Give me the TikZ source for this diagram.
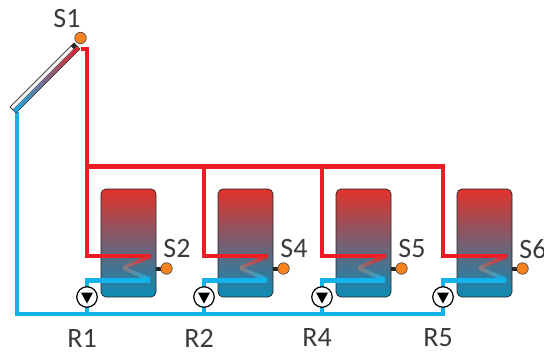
\documentclass[tikz,border=0pt]{standalone}
\usepackage{fontspec}
\setmainfont{Carlito}
\usetikzlibrary{calc}

\definecolor{hotred}{HTML}{ED1C24}
\definecolor{coldblue}{HTML}{12B2EA}
\definecolor{tanktop}{HTML}{E2322C}
\definecolor{tankmid}{HTML}{727474}
\definecolor{tankbot}{HTML}{0A8CB6}
\definecolor{coilgray}{HTML}{867A7C}
\definecolor{sensorfill}{HTML}{F5821F}
\definecolor{labelgray}{HTML}{3A3A3A}

\tikzset{
  hot/.style={draw=hotred, line width=4.5pt},
  cold/.style={draw=coldblue, line width=4.5pt},
  tankbox/.style={draw=black!85, line width=0.7pt, rounded corners=5pt,
    top color=tanktop, middle color=tankmid, bottom color=tankbot,
    minimum width=55pt, minimum height=108pt, inner sep=0pt},
  pumpnode/.style={circle, draw=black, fill=white, line width=1.2pt,
    minimum size=20.5pt, inner sep=0pt},
  sensornode/.style={circle, draw=black!75, fill=sensorfill, line width=0.6pt,
    minimum size=11.5pt, inner sep=0pt},
  stub/.style={draw=black!85, line width=4pt},
  tag/.style={text=labelgray, inner sep=0pt, font=\fontsize{28}{32}\selectfont},
}

\begin{document}
\begin{tikzpicture}[x=1pt, y=-1pt]
\useasboundingbox (0,0) rectangle (544,353);

% tanks and the points the pipes run through
\foreach \x/\s [count=\i] in {87/2, 204/4, 322/5, 443/6} {
  \node[tankbox] (tank\i) at (\x+41.5,243) {};
  \coordinate (drop\i) at (\x,166.5);
  \coordinate (coilin\i) at (\x+63,256);
  \coordinate (coilmid\i) at (\x+36,268);
  \coordinate (coilout\i) at (\x+63,280.5);
  \coordinate (pumpat\i) at (\x,297);
  \coordinate (ret\i) at (\x,314);
  \coordinate (sensat\i) at (\x+79.5,268.5);
}
\coordinate (colhot) at (81,49);
\coordinate (colcold) at (17,112);

% hot side
\draw[hot] (colhot) -| (coilin1 -| drop1) -- (coilin1);
\draw[hot] (drop1) -- (drop4) -- (coilin4 -| drop4) -- (coilin4);
\foreach \i in {2,3}
  \draw[hot] (drop\i) -- (coilin\i -| drop\i) -- (coilin\i);

% coils
\foreach \i in {1,...,4} {
  \shade[left color=coilgray, right color=hotred]
    ($(coilin\i)+(1,-1.9)$) -- ($(coilmid\i)+(0,-1.9)$) --
    ($(coilmid\i)+(0,1.9)$) -- ($(coilin\i)+(1,1.9)$) -- cycle;
  \shade[left color=coilgray, right color=coldblue]
    ($(coilmid\i)+(0,-1.9)$) -- ($(coilout\i)+(0,-3)$) --
    ($(coilout\i)+(0,1.5)$) -- ($(coilmid\i)+(0,1.9)$) -- cycle;
}

% cold side
\draw[cold] (colcold) |- (ret4) -- (pumpat4);
\foreach \i in {1,...,3}
  \draw[cold] (pumpat\i) -- (ret\i);
\foreach \i in {1,...,4}
  \draw[cold] (coilout\i) -| (pumpat\i);

% collector
\begin{scope}[shift={(16,113)}, rotate=45]
  \shade[left color=coldblue, middle color=gray, right color=hotred]
    (0,0) rectangle (90.5,-4.5);
  \draw[black!80, fill=white, line width=0.5pt] (0,-4.5) rectangle (90.5,-8.5);
  \draw[black!80, line width=0.5pt] (0,0) rectangle (90.5,-8.5);
  \fill[black!85] (86,-4.5) rectangle (90.5,-8.5);
\end{scope}
\node[sensornode] (sens0) at (80.5,38) {};
\node[tag] (slab0) at (67,19) {S1};

% pumps, sensors, labels
\foreach \x/\s/\r [count=\i] in {87/2/1, 204/4/2, 322/5/4, 443/6/5} {
  \node[pumpnode] (pump\i) at (pumpat\i) {};
  \fill ($(pump\i)+(-6,-4.5)$) -- ++(12,0) -- ++(-6,11) -- cycle;
  \draw[stub] (tank\i.east |- sensat\i) -- (sensat\i);
  \node[sensornode] (sens\i) at (sensat\i) {};
  \node[tag] (slab\i) at (\x+90,249) {S\s};
  \node[tag] (rlab\i) at (\x-5,338) {R\r};
}
\end{tikzpicture}
\end{document}
